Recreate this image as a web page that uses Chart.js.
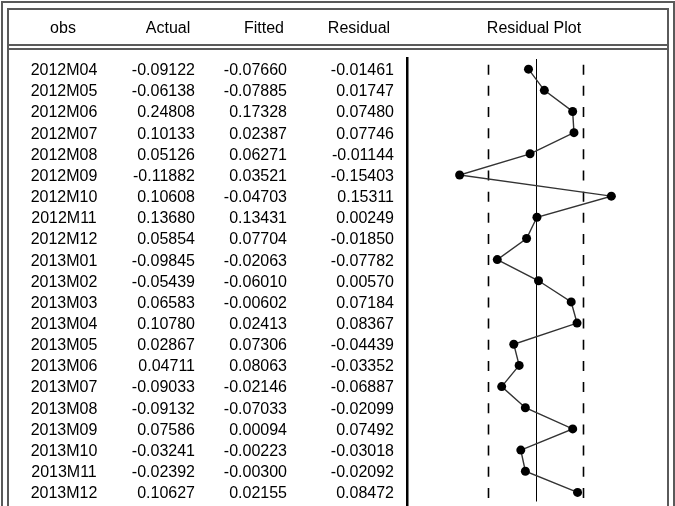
<!DOCTYPE html>
<html>
<head>
<meta charset="utf-8">
<script src="https://cdn.jsdelivr.net/npm/chart.js@4/dist/chart.umd.min.js"></script>
<style>
html,body{margin:0;padding:0;background:#fff;}
canvas{display:block;}
</style>
</head>
<body>
<canvas id="c" width="675" height="506"></canvas>
<script>
const headers = ['obs', 'Actual', 'Fitted', 'Residual', 'Residual Plot'];
const obs = ['2012M04','2012M05','2012M06','2012M07','2012M08','2012M09','2012M10','2012M11','2012M12',
  '2013M01','2013M02','2013M03','2013M04','2013M05','2013M06','2013M07','2013M08','2013M09','2013M10','2013M11','2013M12'];
const actual = [-0.09122,-0.06138,0.24808,0.10133,0.05126,-0.11882,0.10608,0.13680,0.05854,-0.09845,-0.05439,
  0.06583,0.10780,0.02867,0.04711,-0.09033,-0.09132,0.07586,-0.03241,-0.02392,0.10627];
const fitted = [-0.07660,-0.07885,0.17328,0.02387,0.06271,0.03521,-0.04703,0.13431,0.07704,-0.02063,-0.06010,
  -0.00602,0.02413,0.07306,0.08063,-0.02146,-0.07033,0.00094,-0.00223,-0.00300,0.02155];
const residual = [-0.01461,0.01747,0.07480,0.07746,-0.01144,-0.15403,0.15311,0.00249,-0.01850,-0.07782,0.00570,
  0.07184,0.08367,-0.04439,-0.03352,-0.06887,-0.02099,0.07492,-0.03018,-0.02092,0.08472];
const seBand = 0.0967;

const FONT = '16px "Liberation Sans", Arial, sans-serif';

const tablePlugin = {
  id: 'tablePlugin',
  beforeDatasetsDraw(chart) {
    const {ctx, scales: {x, y}, chartArea} = chart;
    ctx.save();
    // zero line
    ctx.strokeStyle = '#000';
    ctx.lineWidth = 1;
    const x0 = Math.round(x.getPixelForValue(0)) + 0.5;
    ctx.beginPath();
    ctx.moveTo(x0, chartArea.top);
    ctx.lineTo(x0, chartArea.bottom);
    ctx.stroke();
    // +/- SE dashed lines
    ctx.lineWidth = 1.6;
    const step = y.getPixelForValue(1) - y.getPixelForValue(0);
    ctx.setLineDash([10, step - 10]);
    [-seBand, seBand].forEach(v => {
      const xp = Math.round(x.getPixelForValue(v)) + 0.5;
      ctx.beginPath();
      ctx.moveTo(xp, y.getPixelForValue(0) - 4.5);
      ctx.lineTo(xp, chartArea.bottom);
      ctx.stroke();
    });
    ctx.restore();
  },
  afterDraw(chart) {
    const {ctx, scales: {y}} = chart;
    ctx.save();
    // frame
    ctx.fillStyle = '#5a5a5a';
    ctx.fillRect(1, 1, 674, 2);
    ctx.fillRect(1, 1, 2, 505);
    ctx.fillRect(673, 1, 2, 505);
    ctx.fillRect(7, 8, 662, 2);
    ctx.fillRect(7, 8, 2, 498);
    ctx.fillRect(667, 8, 2, 498);
    ctx.fillRect(7, 44, 662, 2);
    ctx.fillRect(7, 48, 662, 2);
    // thick divider
    ctx.fillStyle = '#000';
    ctx.fillRect(406, 57, 2.5, 449);
    // header
    ctx.font = FONT;
    ctx.fillStyle = '#000';
    ctx.textBaseline = 'middle';
    ctx.textAlign = 'center';
    const hx = [63, 168, 264, 359, 534];
    headers.forEach((h, i) => ctx.fillText(h, hx[i], 29));
    // rows
    obs.forEach((o, i) => {
      const yp = y.getPixelForValue(i) + 1.5;
      ctx.textAlign = 'center';
      ctx.fillText(o, 64, yp);
      ctx.textAlign = 'right';
      ctx.fillText(actual[i].toFixed(5), 195, yp);
      ctx.fillText(fitted[i].toFixed(5), 287, yp);
      ctx.fillText(residual[i].toFixed(5), 394, yp);
    });
    ctx.restore();
  }
};

new Chart(document.getElementById('c'), {
  type: 'scatter',
  data: {
    datasets: [{
      data: residual.map((r, i) => ({x: r, y: i})),
      showLine: true,
      borderColor: '#333',
      borderWidth: 1.4,
      pointRadius: 4.5,
      pointBackgroundColor: '#000',
      pointBorderColor: '#000',
      pointBorderWidth: 0
    }]
  },
  options: {
    responsive: false,
    animation: false,
    layout: {padding: {left: 409, right: 7, top: 59, bottom: 0}},
    plugins: {legend: {display: false}, tooltip: {enabled: false}},
    scales: {
      x: {type: 'linear', min: -0.2565, max: 0.2678, display: false},
      y: {type: 'linear', reverse: true, min: -0.48, max: 20.43, display: false}
    }
  },
  plugins: [tablePlugin]
});
</script>
</body>
</html>
